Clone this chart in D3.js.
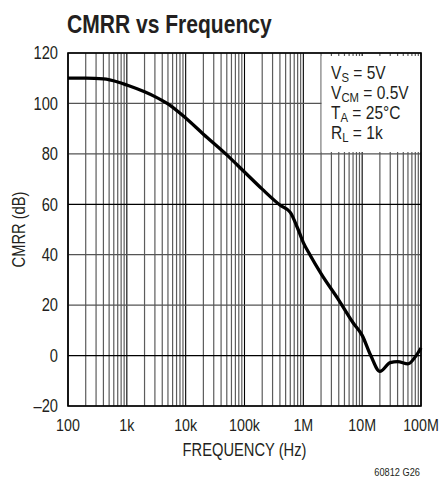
<!DOCTYPE html>
<html>
<head>
<meta charset="utf-8">
<script src="https://cdn.jsdelivr.net/npm/d3@7/dist/d3.min.js"></script>
<style>
  html, body { margin: 0; padding: 0; background: #fff; }
  svg { display: block; }
  text { font-family: "Liberation Sans", Arial, sans-serif; fill: #231f20; }
</style>
</head>
<body>
<svg id="chart" width="442" height="482"></svg>
<script>
// ---- data ----
const freqHz = [100, 200, 400, 700, 1e3, 2e3, 3e3, 5e3, 1e4, 2e4, 5e4, 1e5, 2e5, 4e5, 6e5, 8e5, 1e6, 1.3e6, 2e6, 4e6, 7e6, 1e7, 1.4e7, 2e7, 3e7, 4e7, 6e7, 8e7, 1e8];
const cmrrDb = [110, 110, 109.7, 108.5, 107.3, 104.6, 102.7, 99.8, 94.2, 87.8, 79.6, 72.8, 66, 59.7, 56.8, 50.5, 44.8, 39.9, 32.5, 22, 13, 8, 0, -6.3, -2.8, -2.4, -3.3, -0.5, 3];
const xTickValues = [100, 1e3, 1e4, 1e5, 1e6, 1e7, 1e8];
const xTickLabels = ["100", "1k", "10k", "100k", "1M", "10M", "100M"];
const yTickValues = [-20, 0, 20, 40, 60, 80, 100, 120];
const yTickLabels = ["\u201320", "0", "20", "40", "60", "80", "100", "120"];
const legendLines = [
  ["V", "S", " = 5V"],
  ["V", "CM", " = 0.5V"],
  ["T", "A", " = 25\u00B0C"],
  ["R", "L", " = 1k"]
];

// ---- layout ----
const svg = d3.select("#chart");
const pL = 68, pR = 421, pT = 53, pB = 406;
const SX = 0.84; // condensed face
const x = d3.scaleLog().domain([100, 1e8]).range([pL, pR]);
const y = d3.scaleLinear().domain([-20, 120]).range([pB, pT]);

// grid: vertical
const vLines = [];
for (let e = 2; e < 8; e++) {
  for (let k = 1; k <= 9; k++) vLines.push({ v: k * Math.pow(10, e), major: k === 1 });
}
vLines.push({ v: 1e8, major: true });

const g = svg.append("g");
g.selectAll("line.v").data(vLines).join("line")
  .attr("x1", d => x(d.v)).attr("x2", d => x(d.v))
  .attr("y1", pT).attr("y2", pB)
  .attr("stroke", d => d.major ? "#000" : "#5c5c5c")
  .attr("stroke-width", d => d.major ? 1.1 : 1.2);

g.selectAll("line.h").data(yTickValues).join("line")
  .attr("x1", pL).attr("x2", pR)
  .attr("y1", d => y(d)).attr("y2", d => y(d))
  .attr("stroke", d => (d === 0 || d === 60) ? "#000" : "#555")
  .attr("stroke-width", 1.2);

// legend box (white, covers grid)
const lx0 = x(2e6), ly0 = 56, ly1 = 152;
g.append("rect").attr("x", lx0 + 0.6).attr("y", ly0).attr("width", pR - lx0 - 1.2).attr("height", ly1 - ly0).attr("fill", "#fff");

// frame
g.append("rect").attr("x", pL).attr("y", pT).attr("width", pR - pL).attr("height", pB - pT)
  .attr("fill", "none").attr("stroke", "#000").attr("stroke-width", 1.6);

// curve
const line = d3.line().x((d, i) => x(freqHz[i])).y(d => y(d)).curve(d3.curveMonotoneX);
g.append("path").datum(cmrrDb).attr("d", line)
  .attr("fill", "none").attr("stroke", "#000").attr("stroke-width", 3.3).attr("stroke-linejoin", "round");

function txt(px, py, size, anchor, extra) {
  return svg.append("text")
    .attr("transform", `translate(${px},${py})${extra || ""} scale(${SX},1)`)
    .attr("font-size", size).attr("text-anchor", anchor || "start");
}

// y tick labels
yTickValues.forEach((v, i) => {
  txt(58, y(v), 17.5, "end").attr("dy", "0.36em").text(yTickLabels[i]);
});

// x tick labels
xTickValues.forEach((v, i) => {
  txt(x(v), 431, 17, "middle").text(xTickLabels[i]);
});

// axis titles
txt((pL + pR) / 2, 456, 17.5, "middle").text("FREQUENCY (Hz)");
txt(25, (pT + pB) / 2, 17.5, "middle", " rotate(-90)").text("CMRR (dB)");

// title
svg.append("text").attr("transform", `translate(67,33) scale(0.81,1)`)
  .attr("font-size", 26).attr("font-weight", "bold").text("CMRR vs Frequency");

// legend text
legendLines.forEach((parts, i) => {
  const t = txt(331, 79 + i * 20, 18.5, "start");
  t.append("tspan").text(parts[0]);
  t.append("tspan").attr("font-size", 13.5).attr("dy", 3).text(parts[1]);
  t.append("tspan").attr("dy", -3).text(parts[2]);
});

// footnote
txt(420, 476, 11, "end").text("60812 G26");
</script>
</body>
</html>
